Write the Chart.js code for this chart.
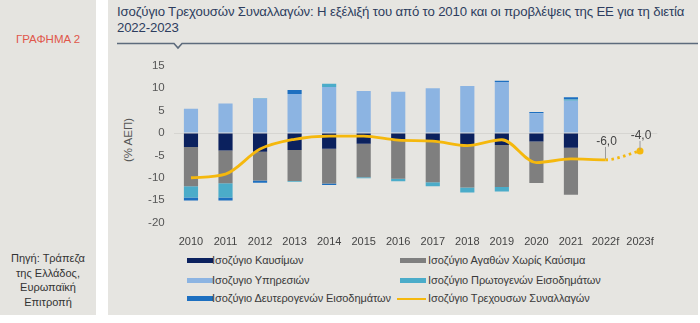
<!DOCTYPE html>
<html><head><meta charset="utf-8">
<script src="https://cdn.jsdelivr.net/npm/chart.js@4.4.0/dist/chart.umd.min.js"></script>
<style>
html,body{margin:0;padding:0;background:#fff;width:700px;height:323px;overflow:hidden;font-family:"Liberation Sans",Arial,sans-serif;}
#left{position:absolute;left:0;top:0;width:96px;height:315px;background:#e5e4e0;}
#right{position:absolute;left:108px;top:0;width:590px;height:315px;background:#e6e5e1;}
#tag{position:absolute;left:0;width:96px;top:33px;text-align:center;color:#e0574b;font-size:11.5px;}
#src{position:absolute;left:0;width:96px;top:251px;text-align:center;color:#333;font-size:11px;line-height:14.5px;}
#title{position:absolute;left:117px;top:4px;width:580px;color:#2d3d5e;font-size:13.2px;line-height:16px;letter-spacing:-0.15px;}
#ytitle{position:absolute;left:128px;top:140px;transform:translate(-50%,-50%) rotate(-90deg);color:#555;font-size:11.5px;white-space:nowrap;}
#chart{position:absolute;left:108px;top:50px;width:592px;height:200px;}
.lg{position:absolute;font-size:11px;color:#3a3a3a;white-space:nowrap;letter-spacing:-0.1px;}
.mk{position:absolute;height:5px;}
</style></head>
<body>
<div id="left"></div>
<div id="right"></div>
<div id="tag">ΓΡΑΦΗΜΑ 2</div>
<div id="src">Πηγή: Τράπεζα<br>της Ελλάδος,<br>Ευρωπαϊκή<br>Επιτροπή</div>
<div id="title">Ισοζύγιο Τρεχουσών Συναλλαγών: Η εξέλιξή του από το 2010 και οι προβλέψεις της ΕΕ για τη διετία<br>2022-2023</div>
<svg style="position:absolute;left:0;top:0" width="700" height="60">
<polyline points="117,43.5 174,43.5 178,48 182,43.5 698,43.5" fill="none" stroke="#5d6b7c" stroke-width="1.6"/>
</svg>
<div id="ytitle">(% ΑΕΠ)</div>
<div id="chart"><canvas id="c" width="592" height="200"></canvas></div>
<div id="legend"></div>
<script>
const categories = ['2010','2011','2012','2013','2014','2015','2016','2017','2018','2019','2020','2021','2022f','2023f'];
const fuel      = [-3.1,-3.9,-4.2,-3.8,-3.5,-2.4,-1.8,-1.9,-2.6,-2.7,-1.9,-3.3,null,null];
const goods     = [-8.8,-7.3,-6.4,-6.9,-7.8,-7.5,-8.4,-9.1,-9.6,-9.35,-9.25,-10.5,null,null];
const services  = [5.4,6.6,7.7,8.7,10.3,9.4,9.2,10.0,10.5,11.4,4.4,7.2,null,null];
const primary   = [-2.5,-3.2,0.1,-0.2,0.7,-0.2,-0.6,-0.9,-1.1,-1.0,0,0.3,null,null];
const secondary = [-0.7,-0.7,-0.5,0.9,-0.3,0,0,0,0,0.3,0.3,0.5,null,null];
const current   = [-10.0,-9.2,-3.6,-1.4,-0.7,-0.7,-1.6,-1.8,-2.8,-1.5,-6.6,-5.8,-6.0,-4.0];
const yTicks = [-20,-15,-10,-5,0,5,10,15];
const labelNames = ['Ισοζύγιο  Καυσίμων','Ισοζύγιο Αγαθών Χωρίς Καύσιμα','Ισοζυγιο Υπηρεσιών','Ισοζύγιο Πρωτογενών Εισοδημάτων','Ισοζύγιο Δευτερογενών Εισοδημάτων','Ισοζύγιο Τρεχουσων Συναλλαγών'];
const colors = ['#0b215e','#7f7f7f','#8cb4e2','#4bacc9','#1d6fc0','#f5b80d'];

// legend (HTML)
const legendPos = [[187,212,254],[400,428,254],[187,212,274],[400,428,274],[187,212,292],[400,428,292]];
const lg = document.getElementById('legend');
labelNames.forEach((n,i)=>{
  const [mx,tx,ty] = legendPos[i];
  const m = document.createElement('div'); m.className='mk';
  m.style.left = (i===5? mx-3: mx)+'px'; m.style.top=(ty+4)+'px';
  m.style.width = (i===5? 29: 26)+'px';
  if(i===5){m.style.height='2px'; m.style.top=(ty+5.5)+'px';}
  m.style.background = colors[i];
  lg.appendChild(m);
  const t = document.createElement('div'); t.className='lg';
  t.style.left = tx+'px'; t.style.top = ty+'px'; t.textContent = n;
  lg.appendChild(t);
});

const labelPlugin = {
  id:'valLabels',
  afterDatasetsDraw(chart){
    const meta = chart.getDatasetMeta(5);
    const ctx = chart.ctx;
    ctx.save();
    ctx.font = '12px "Liberation Sans", Arial, sans-serif';
    ctx.fillStyle = '#444';
    ctx.strokeStyle = '#9a9a9a';
    ctx.lineWidth = 1;
    ctx.textAlign='center'; ctx.textBaseline='middle';
    [[12,13,-18],[13,10,-15]].forEach(([idx,lead,off])=>{
      const p = meta.data[idx];
      ctx.beginPath(); ctx.moveTo(p.x, p.y-1); ctx.lineTo(p.x, p.y-lead); ctx.stroke();
      ctx.fillText(current[idx].toFixed(1).replace('.',','), p.x+1, p.y+off);
    });
    ctx.restore();
  }
};

const barDs = (i,data)=>({type:'bar',label:labelNames[i],data,backgroundColor:colors[i],stack:'s',order:1,barPercentage:0.41,categoryPercentage:1});
new Chart(document.getElementById('c'),{
  data:{labels:categories,datasets:[
    barDs(0,fuel),barDs(1,goods),barDs(2,services),barDs(3,primary),barDs(4,secondary),
    {type:'line',label:labelNames[5],data:current,borderColor:colors[5],backgroundColor:colors[5],borderWidth:2.8,
     cubicInterpolationMode:'monotone',stack:'line',order:0,
     pointRadius:current.map((v,i)=>i===13?3.5:0),pointBorderWidth:0,
     segment:{borderDash:ctx=>ctx.p0DataIndex===12?[2.5,3.5]:undefined}}
  ]},
  options:{
    responsive:false,animation:false,
    layout:{padding:{left:0,right:42.7,top:11.5,bottom:0}},
    plugins:{legend:{display:false},tooltip:{enabled:false}},
    scales:{
      x:{stacked:true,grid:{display:false},border:{display:false},
        ticks:{color:'#444',font:{size:11,family:'"Liberation Sans", Arial, sans-serif'},padding:5,maxRotation:0,autoSkip:false},
        afterFit(s){s.height=27.5;}},
      y:{stacked:true,min:-20,max:15,
        afterBuildTicks(s){s.ticks=yTicks.map(v=>({value:v}));},
        grid:{drawTicks:false,color:c=>c.tick&&c.tick.value===0?'#d6d5d1':'rgba(0,0,0,0)',lineWidth:1},
        border:{display:false},
        ticks:{color:'#555',font:{size:11.5,family:'"Liberation Sans", Arial, sans-serif'},padding:9},
        afterFit(s){s.width=65.7;}}
    }
  },
  plugins:[labelPlugin]
});
</script>
</body></html>
